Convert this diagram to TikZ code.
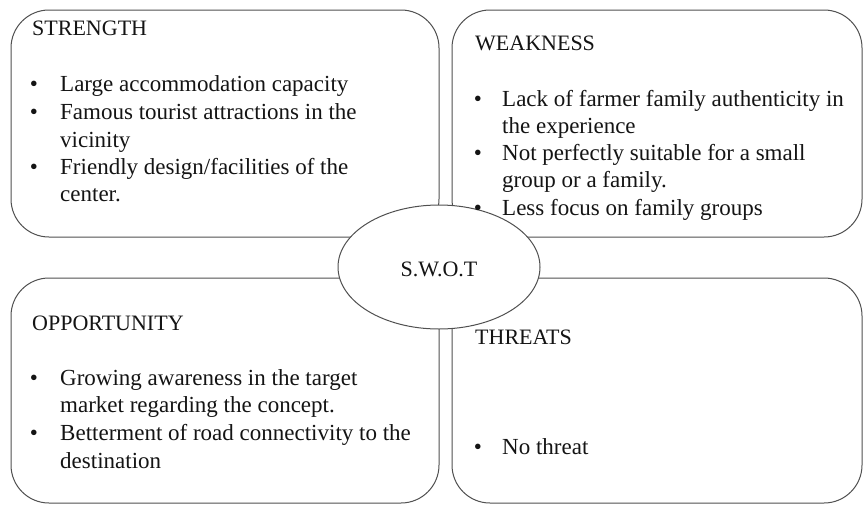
\documentclass[tikz,border=0pt]{standalone}
\usepackage{fontspec}
\setmainfont{Liberation Serif}
\usetikzlibrary{shapes.geometric}
\definecolor{edge}{HTML}{505050}
\definecolor{ink}{HTML}{141414}
\begin{document}
\begin{tikzpicture}[x=1pt,y=-1pt,
  quad/.style={draw=edge,line width=1pt,rounded corners=38pt,inner sep=0pt},
  head/.style={anchor=base west,inner sep=0pt,text=ink,font=\fontsize{22}{26}\selectfont},
  line/.style={anchor=base west,inner sep=0pt,text=ink,font=\fontsize{23}{27}\selectfont},
  dot/.style={anchor=base,inner sep=0pt,text=ink,font=\fontsize{23}{27}\selectfont}]
\useasboundingbox (0,0) rectangle (866,506);
\fill[white] (0,0) rectangle (866,506);

% four quadrants
\node[quad,minimum width=428pt,minimum height=227pt] (S) at (225,123.5) {};
\node[quad,minimum width=410pt,minimum height=227pt] (W) at (657,123.5) {};
\node[quad,minimum width=428pt,minimum height=225pt] (O) at (225,390.5) {};
\node[quad,minimum width=410pt,minimum height=225pt] (T) at (657,390.5) {};

% centre ellipse
\node[ellipse,draw=edge,line width=1pt,fill=white,minimum width=202pt,minimum height=124pt,inner sep=0pt] (C) at (439,267) {};
\node[anchor=base,inner sep=0pt,text=ink,font=\fontsize{22}{26}\selectfont] (Ct) at (439,276) {S.W.O.T};

% strength
\node[head] (sh) at (32,35) {STRENGTH};
\node[dot] (sb1) at (34,91) {\textbullet};
\node[line] (s1) at (60,91) {Large accommodation capacity};
\node[dot] (sb2) at (34,119) {\textbullet};
\node[line] (s2) at (60,119) {Famous tourist attractions in the};
\node[line] (s3) at (60,147) {vicinity};
\node[dot] (sb3) at (34,174) {\textbullet};
\node[line] (s4) at (60,174) {Friendly design/facilities of the};
\node[line] (s5) at (60,201) {center.};

% weakness
\node[head] (wh) at (475,50) {WEAKNESS};
\node[dot] (wb1) at (478,106) {\textbullet};
\node[line] (w1) at (502,106) {Lack of farmer family authenticity in};
\node[line] (w2) at (502,133) {the experience};
\node[dot] (wb2) at (478,160) {\textbullet};
\node[line] (w3) at (502,160) {Not perfectly suitable for a small};
\node[line] (w4) at (502,187) {group or a family.};
\node[dot] (wb3) at (478,215) {\textbullet};
\node[line] (w5) at (502,215) {Less focus on family groups};

% opportunity
\node[head] (oh) at (32,330) {OPPORTUNITY};
\node[dot] (ob1) at (34,385) {\textbullet};
\node[line] (o1) at (60,385) {Growing awareness in the target};
\node[line] (o2) at (60,412) {market regarding the concept.};
\node[dot] (ob2) at (34,440) {\textbullet};
\node[line] (o3) at (60,440) {Betterment of road connectivity to the};
\node[line] (o4) at (60,468) {destination};

% threats
\node[head] (th) at (475,344) {THREATS};
\node[dot] (tb1) at (478,454) {\textbullet};
\node[line] (t1) at (502,454) {No threat};
\end{tikzpicture}
\end{document}
